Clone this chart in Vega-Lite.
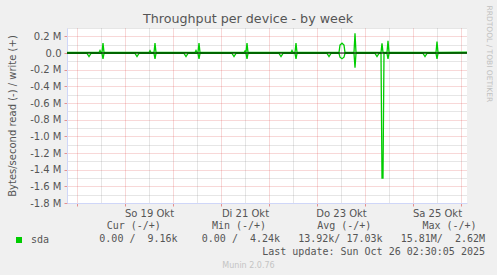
{
  "$schema": "https://vega.github.io/schema/vega-lite/v6.json",
  "width": 400,
  "height": 175,
  "autosize": {"type": "none"},
  "padding": {"left": 67, "top": 28, "right": 30, "bottom": 72},
  "background": "#f0f0f0",
  "view": {"fill": "#ffffff", "stroke": null},
  "title": {
    "text": "Throughput per device - by week",
    "anchor": "middle",
    "font": "DejaVu Sans",
    "fontSize": 12.7,
    "fontWeight": "normal",
    "color": "#555555",
    "baseline": "alphabetic",
    "offset": 0,
    "dx": -19,
    "dy": 31
  },
  "config": {
    "view": {"stroke": null},
    "font": "DejaVu Sans",
    "axis": {
      "labelFont": "DejaVu Sans",
      "labelFontSize": 10,
      "labelColor": "#555555",
      "titleFont": "DejaVu Sans",
      "titleFontSize": 10,
      "titleFontWeight": "normal",
      "titleColor": "#555555",
      "domainColor": "#cfd6f8",
      "domainWidth": 1
    }
  },
  "datasets": {
    "series": [
      {"t": "2025-10-17T19:00:00Z", "dir": "write", "v": 6000},
      {"t": "2025-10-18T11:00:00Z", "dir": "write", "v": 6000},
      {"t": "2025-10-18T11:30:00Z", "dir": "write", "v": 30000},
      {"t": "2025-10-18T12:00:00Z", "dir": "write", "v": 6000},
      {"t": "2025-10-18T12:30:00Z", "dir": "write", "v": 6000},
      {"t": "2025-10-18T13:00:00Z", "dir": "write", "v": 120000},
      {"t": "2025-10-18T13:30:00Z", "dir": "write", "v": 6000},
      {"t": "2025-10-19T12:00:00Z", "dir": "write", "v": 6000},
      {"t": "2025-10-19T12:30:00Z", "dir": "write", "v": 28000},
      {"t": "2025-10-19T13:00:00Z", "dir": "write", "v": 6000},
      {"t": "2025-10-19T14:30:00Z", "dir": "write", "v": 6000},
      {"t": "2025-10-19T15:00:00Z", "dir": "write", "v": 120000},
      {"t": "2025-10-19T15:30:00Z", "dir": "write", "v": 6000},
      {"t": "2025-10-20T11:00:00Z", "dir": "write", "v": 6000},
      {"t": "2025-10-20T11:30:00Z", "dir": "write", "v": 30000},
      {"t": "2025-10-20T12:00:00Z", "dir": "write", "v": 6000},
      {"t": "2025-10-20T12:30:00Z", "dir": "write", "v": 6000},
      {"t": "2025-10-20T13:00:00Z", "dir": "write", "v": 120000},
      {"t": "2025-10-20T13:30:00Z", "dir": "write", "v": 6000},
      {"t": "2025-10-21T11:30:00Z", "dir": "write", "v": 6000},
      {"t": "2025-10-21T12:00:00Z", "dir": "write", "v": 25000},
      {"t": "2025-10-21T12:30:00Z", "dir": "write", "v": 6000},
      {"t": "2025-10-21T13:00:00Z", "dir": "write", "v": 120000},
      {"t": "2025-10-21T13:30:00Z", "dir": "write", "v": 6000},
      {"t": "2025-10-22T11:00:00Z", "dir": "write", "v": 6000},
      {"t": "2025-10-22T11:30:00Z", "dir": "write", "v": 30000},
      {"t": "2025-10-22T12:00:00Z", "dir": "write", "v": 6000},
      {"t": "2025-10-22T13:00:00Z", "dir": "write", "v": 6000},
      {"t": "2025-10-22T13:30:00Z", "dir": "write", "v": 120000},
      {"t": "2025-10-22T14:00:00Z", "dir": "write", "v": 6000},
      {"t": "2025-10-23T11:00:00Z", "dir": "write", "v": 6000},
      {"t": "2025-10-23T11:30:00Z", "dir": "write", "v": 95000},
      {"t": "2025-10-23T12:30:00Z", "dir": "write", "v": 118000},
      {"t": "2025-10-23T13:30:00Z", "dir": "write", "v": 95000},
      {"t": "2025-10-23T14:00:00Z", "dir": "write", "v": 6000},
      {"t": "2025-10-23T18:30:00Z", "dir": "write", "v": 6000},
      {"t": "2025-10-23T19:00:00Z", "dir": "write", "v": 237000},
      {"t": "2025-10-23T19:30:00Z", "dir": "write", "v": 6000},
      {"t": "2025-10-24T08:00:00Z", "dir": "write", "v": 6000},
      {"t": "2025-10-24T08:30:00Z", "dir": "write", "v": 117000},
      {"t": "2025-10-24T09:00:00Z", "dir": "write", "v": 6000},
      {"t": "2025-10-24T11:00:00Z", "dir": "write", "v": 6000},
      {"t": "2025-10-24T11:30:00Z", "dir": "write", "v": 145000},
      {"t": "2025-10-24T12:00:00Z", "dir": "write", "v": 6000},
      {"t": "2025-10-25T11:30:00Z", "dir": "write", "v": 6000},
      {"t": "2025-10-25T12:00:00Z", "dir": "write", "v": 137000},
      {"t": "2025-10-25T12:30:00Z", "dir": "write", "v": 6000},
      {"t": "2025-10-26T03:00:00Z", "dir": "write", "v": 9000},
      {"t": "2025-10-17T19:00:00Z", "dir": "read", "v": -5000},
      {"t": "2025-10-18T05:00:00Z", "dir": "read", "v": -5000},
      {"t": "2025-10-18T06:00:00Z", "dir": "read", "v": -43000},
      {"t": "2025-10-18T07:00:00Z", "dir": "read", "v": -5000},
      {"t": "2025-10-18T12:30:00Z", "dir": "read", "v": -5000},
      {"t": "2025-10-18T13:00:00Z", "dir": "read", "v": -70000},
      {"t": "2025-10-18T13:30:00Z", "dir": "read", "v": -5000},
      {"t": "2025-10-19T05:00:00Z", "dir": "read", "v": -5000},
      {"t": "2025-10-19T06:00:00Z", "dir": "read", "v": -43000},
      {"t": "2025-10-19T07:00:00Z", "dir": "read", "v": -5000},
      {"t": "2025-10-19T14:30:00Z", "dir": "read", "v": -5000},
      {"t": "2025-10-19T15:00:00Z", "dir": "read", "v": -70000},
      {"t": "2025-10-19T15:30:00Z", "dir": "read", "v": -5000},
      {"t": "2025-10-20T05:30:00Z", "dir": "read", "v": -5000},
      {"t": "2025-10-20T06:30:00Z", "dir": "read", "v": -43000},
      {"t": "2025-10-20T07:30:00Z", "dir": "read", "v": -5000},
      {"t": "2025-10-20T12:30:00Z", "dir": "read", "v": -5000},
      {"t": "2025-10-20T13:00:00Z", "dir": "read", "v": -70000},
      {"t": "2025-10-20T13:30:00Z", "dir": "read", "v": -5000},
      {"t": "2025-10-21T05:30:00Z", "dir": "read", "v": -5000},
      {"t": "2025-10-21T06:30:00Z", "dir": "read", "v": -43000},
      {"t": "2025-10-21T07:30:00Z", "dir": "read", "v": -5000},
      {"t": "2025-10-21T12:30:00Z", "dir": "read", "v": -5000},
      {"t": "2025-10-21T13:00:00Z", "dir": "read", "v": -70000},
      {"t": "2025-10-21T13:30:00Z", "dir": "read", "v": -5000},
      {"t": "2025-10-22T05:00:00Z", "dir": "read", "v": -5000},
      {"t": "2025-10-22T06:00:00Z", "dir": "read", "v": -43000},
      {"t": "2025-10-22T07:00:00Z", "dir": "read", "v": -5000},
      {"t": "2025-10-22T13:00:00Z", "dir": "read", "v": -5000},
      {"t": "2025-10-22T13:30:00Z", "dir": "read", "v": -70000},
      {"t": "2025-10-22T14:00:00Z", "dir": "read", "v": -5000},
      {"t": "2025-10-23T05:00:00Z", "dir": "read", "v": -5000},
      {"t": "2025-10-23T06:00:00Z", "dir": "read", "v": -43000},
      {"t": "2025-10-23T07:00:00Z", "dir": "read", "v": -5000},
      {"t": "2025-10-23T11:00:00Z", "dir": "read", "v": -5000},
      {"t": "2025-10-23T11:30:00Z", "dir": "read", "v": -50000},
      {"t": "2025-10-23T12:30:00Z", "dir": "read", "v": -68000},
      {"t": "2025-10-23T13:30:00Z", "dir": "read", "v": -50000},
      {"t": "2025-10-23T14:00:00Z", "dir": "read", "v": -5000},
      {"t": "2025-10-23T18:30:00Z", "dir": "read", "v": -5000},
      {"t": "2025-10-23T19:00:00Z", "dir": "read", "v": -175000},
      {"t": "2025-10-23T19:30:00Z", "dir": "read", "v": -5000},
      {"t": "2025-10-24T05:00:00Z", "dir": "read", "v": -5000},
      {"t": "2025-10-24T06:00:00Z", "dir": "read", "v": -43000},
      {"t": "2025-10-24T07:00:00Z", "dir": "read", "v": -5000},
      {"t": "2025-10-24T08:00:00Z", "dir": "read", "v": -5000},
      {"t": "2025-10-24T08:30:00Z", "dir": "read", "v": -1500000},
      {"t": "2025-10-24T09:00:00Z", "dir": "read", "v": -1500000},
      {"t": "2025-10-24T09:30:00Z", "dir": "read", "v": -5000},
      {"t": "2025-10-24T11:00:00Z", "dir": "read", "v": -5000},
      {"t": "2025-10-24T11:30:00Z", "dir": "read", "v": -72000},
      {"t": "2025-10-24T12:00:00Z", "dir": "read", "v": -5000},
      {"t": "2025-10-25T05:00:00Z", "dir": "read", "v": -5000},
      {"t": "2025-10-25T06:00:00Z", "dir": "read", "v": -43000},
      {"t": "2025-10-25T07:00:00Z", "dir": "read", "v": -5000},
      {"t": "2025-10-25T11:30:00Z", "dir": "read", "v": -5000},
      {"t": "2025-10-25T12:00:00Z", "dir": "read", "v": -72000},
      {"t": "2025-10-25T12:30:00Z", "dir": "read", "v": -5000},
      {"t": "2025-10-26T03:00:00Z", "dir": "read", "v": 0}
    ],
    "zero": [{"level": 0}],
    "stats": [
      {"stat": "Cur", "header": "Cur (-/+)", "value": "0.00 /\u00a0\u00a09.16k"},
      {"stat": "Min", "header": "Min (-/+)", "value": "0.00 /\u00a0\u00a04.24k"},
      {"stat": "Avg", "header": "Avg (-/+)", "value": "13.92k/ 17.03k"},
      {"stat": "Max", "header": "Max (-/+)", "value": "15.81M/\u00a0\u00a02.62M"}
    ],
    "lastupdate": [{"line": "Last update: Sun Oct 26 02:30:05 2025"}]
  },
  "resolve": {"scale": {"x": "independent", "y": "independent"}},
  "layer": [
    {
      "data": {"name": "series"},
      "mark": {"type": "line", "strokeWidth": 1.3, "clip": true},
      "encoding": {
        "x": {
          "field": "t",
          "type": "temporal",
          "scale": {
            "type": "utc",
            "nice": false,
            "domain": [
              {"year": 2025, "month": 10, "date": 17, "hours": 19, "utc": true},
              {"year": 2025, "month": 10, "date": 26, "hours": 3, "utc": true}
            ]
          },
          "axis": {
            "title": "Munin 2.0.76",
            "titleFontSize": 8,
            "titleColor": "#c4c4c4",
            "titleX": 181,
            "titleY": 58,
            "titleAlign": "center",
            "titleBaseline": "top",
            "values": [
              {"year": 2025, "month": 10, "date": 18, "hours": 0, "utc": true},
              {"year": 2025, "month": 10, "date": 18, "hours": 12, "utc": true},
              {"year": 2025, "month": 10, "date": 19, "hours": 0, "utc": true},
              {"year": 2025, "month": 10, "date": 19, "hours": 12, "utc": true},
              {"year": 2025, "month": 10, "date": 20, "hours": 0, "utc": true},
              {"year": 2025, "month": 10, "date": 20, "hours": 12, "utc": true},
              {"year": 2025, "month": 10, "date": 21, "hours": 0, "utc": true},
              {"year": 2025, "month": 10, "date": 21, "hours": 12, "utc": true},
              {"year": 2025, "month": 10, "date": 22, "hours": 0, "utc": true},
              {"year": 2025, "month": 10, "date": 22, "hours": 12, "utc": true},
              {"year": 2025, "month": 10, "date": 23, "hours": 0, "utc": true},
              {"year": 2025, "month": 10, "date": 23, "hours": 12, "utc": true},
              {"year": 2025, "month": 10, "date": 24, "hours": 0, "utc": true},
              {"year": 2025, "month": 10, "date": 24, "hours": 12, "utc": true},
              {"year": 2025, "month": 10, "date": 25, "hours": 0, "utc": true},
              {"year": 2025, "month": 10, "date": 25, "hours": 12, "utc": true},
              {"year": 2025, "month": 10, "date": 26, "hours": 0, "utc": true}
            ],
            "labelExpr": "(datum.value % 86400000 != 43200000 || floor(datum.value / 86400000) % 2 != 0) ? '' : (((floor(datum.value / 86400000) + 4) % 7 == 0 ? 'So' : (floor(datum.value / 86400000) + 4) % 7 == 1 ? 'Mo' : (floor(datum.value / 86400000) + 4) % 7 == 2 ? 'Di' : (floor(datum.value / 86400000) + 4) % 7 == 3 ? 'Mi' : (floor(datum.value / 86400000) + 4) % 7 == 4 ? 'Do' : (floor(datum.value / 86400000) + 4) % 7 == 5 ? 'Fr' : 'Sa') + ' ' + (floor(datum.value / 86400000) - 20361) + ' Okt')",
            "labelOverlap": false,
            "labelFlush": false,
            "labelPadding": 2,
            "tickSize": 3,
            "tickColor": {"condition": {"test": "datum.value % 86400000 == 0", "value": "rgba(222,79,79,0.6)"}, "value": "rgba(143,143,143,0.0)"},
            "grid": true,
            "gridDash": [1, 1],
            "gridColor": {"condition": {"test": "datum.value % 86400000 == 0", "value": "rgba(222,79,79,0.45)"}, "value": "rgba(143,143,143,0.45)"}
          }
        },
        "y": {
          "field": "v",
          "type": "quantitative",
          "scale": {"domain": [-1800000, 300000], "nice": false, "zero": false},
          "axis": {
            "title": "Bytes/second read (-) / write (+)",
            "titleX": -55,
            "titleY": 87.5,
            "titleAngle": -90,
            "titleAlign": "center",
            "titleBaseline": "middle",
            "values": [-1800000, -1700000, -1600000, -1500000, -1400000, -1300000, -1200000, -1100000, -1000000, -900000, -800000, -700000, -600000, -500000, -400000, -300000, -200000, -100000, 0, 100000, 200000, 300000],
            "labelExpr": "round(datum.value / 100000) % 2 != 0 ? '' : (datum.value == 0 ? '0.0' : (datum.value < 0 ? '-' : '') + format(abs(datum.value) / 1000000, '.1f') + ' M')",
            "labelOverlap": false,
            "labelPadding": 3,
            "tickSize": 3,
            "tickColor": {"condition": {"test": "round(datum.value / 100000) % 2 == 0", "value": "rgba(222,79,79,0.6)"}, "value": "rgba(143,143,143,0.0)"},
            "grid": true,
            "gridDash": [1, 1],
            "gridColor": {"condition": {"test": "round(datum.value / 100000) % 2 == 0", "value": "rgba(222,79,79,0.45)"}, "value": "rgba(143,143,143,0.45)"}
          }
        },
        "detail": {"field": "dir", "type": "nominal"},
        "color": {
          "datum": "sda",
          "type": "nominal",
          "scale": {"range": ["#00cc00"]},
          "legend": {
            "orient": "none",
            "legendX": -53,
            "legendY": 207,
            "title": null,
            "padding": 0,
            "symbolType": "square",
            "symbolSize": 36,
            "symbolFillColor": "#00cc00",
            "symbolStrokeWidth": 0,
            "labelFont": "DejaVu Sans Mono",
            "labelFontSize": 10,
            "labelColor": "#555555",
            "labelOffset": 7
          }
        }
      }
    },
    {
      "data": {"name": "zero"},
      "mark": {"type": "rule", "color": "#000000", "strokeWidth": 1},
      "encoding": {
        "y": {
          "field": "level",
          "type": "quantitative",
          "scale": {"domain": [-1800000, 300000], "nice": false, "zero": false},
          "axis": {
            "orient": "right",
            "title": "RRDTOOL / TOBI OETIKER",
            "titleFont": "DejaVu Sans",
            "titleFontSize": 7.5,
            "titleColor": "#c0c0c0",
            "titleAngle": 90,
            "titleX": 21,
            "titleY": -23,
            "titleAlign": "left",
            "titleBaseline": "middle",
            "labels": false,
            "ticks": false,
            "domain": false,
            "grid": false
          }
        }
      }
    },
    {
      "data": {"name": "stats"},
      "mark": {"type": "text", "align": "center", "baseline": "alphabetic", "font": "DejaVu Sans Mono", "fontSize": 10, "color": "#555555"},
      "encoding": {
        "x": {"field": "stat", "type": "nominal", "scale": {"type": "point", "domain": ["Cur", "Min", "Avg", "Max"], "range": [66.8, 382.5], "padding": 0}, "axis": null},
        "y": {"datum": "header", "type": "nominal", "scale": {"type": "point", "domain": ["header", "values", "update"], "range": [201.3, 226.7], "padding": 0}, "axis": null},
        "text": {"field": "header"}
      }
    },
    {
      "data": {"name": "stats"},
      "mark": {"type": "text", "align": "right", "baseline": "alphabetic", "font": "DejaVu Sans Mono", "fontSize": 10, "color": "#555555"},
      "encoding": {
        "x": {"field": "stat", "type": "nominal", "scale": {"type": "point", "domain": ["Cur", "Min", "Avg", "Max"], "range": [110.6, 418], "padding": 0}, "axis": null},
        "y": {"datum": "values", "type": "nominal", "scale": {"type": "point", "domain": ["header", "values", "update"], "range": [201.3, 226.7], "padding": 0}, "axis": null},
        "text": {"field": "value"}
      }
    },
    {
      "data": {"name": "lastupdate"},
      "mark": {"type": "text", "align": "right", "baseline": "alphabetic", "font": "DejaVu Sans Mono", "fontSize": 10, "color": "#555555"},
      "encoding": {
        "x": {"datum": "Max", "type": "nominal", "scale": {"type": "point", "domain": ["Cur", "Min", "Avg", "Max"], "range": [110.6, 418], "padding": 0}, "axis": null},
        "y": {"datum": "update", "type": "nominal", "scale": {"type": "point", "domain": ["header", "values", "update"], "range": [201.3, 226.7], "padding": 0}, "axis": null},
        "text": {"field": "line"}
      }
    }
  ]
}
